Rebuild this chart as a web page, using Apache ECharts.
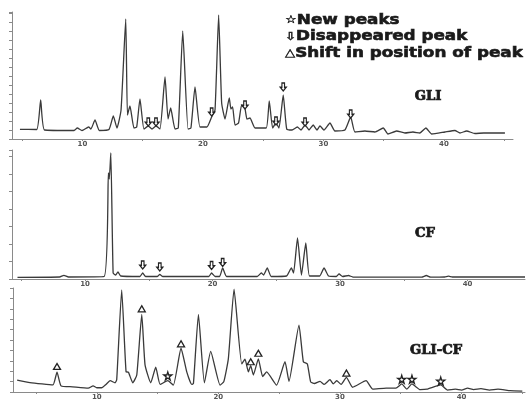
<!DOCTYPE html>
<html>
<head>
<meta charset="utf-8">
<script src="https://cdn.jsdelivr.net/npm/echarts@6/dist/echarts.min.js"></script>
<style>html,body{margin:0;padding:0;background:#fff;}#c{width:531px;height:401px;}</style>
</head>
<body>
<div id="c"></div>
<script>
// ---- data (2θ in degrees, intensity in arbitrary units) ----
const tickLabels = [10, 20, 30, 40];
const minorTicks = [5, 10, 15, 20, 25, 30, 35, 40, 45];
const panelNames = ['GLI', 'CF', 'GLI-CF'];
const legendLines = ['New peaks', 'Disappeared peak', 'Shift in position of peak'];

const gliPattern = [[4.81,9.7],[6.2,9.5],[6.53,39],[6.85,9],[9.3,8.5],[9.57,11],[9.96,8.5],[10.51,12],[10.7,10],[11.04,19],[11.4,8.5],[12.2,9.5],[12.56,23],[12.86,11],[13.2,29],[13.59,120],[13.73,24],[13.94,33],[14.27,11],[14.5,12],[14.77,40],[15.1,10],[15.46,13],[15.77,10],[16.1,13],[16.43,10],[16.85,62],[17.1,20],[17.32,31],[17.68,10],[17.95,11],[18.32,108],[18.76,10],[19.0,11],[19.34,52],[19.75,12],[20.33,12],[20.72,22],[21.0,29],[21.3,124],[21.55,36],[21.83,20],[22.18,41],[22.32,30],[22.46,32],[22.66,14],[22.95,16],[23.21,34],[23.49,30],[23.65,20],[23.9,21],[24.32,11],[25.25,11],[25.5,38],[25.78,11],[26.06,16],[26.31,11],[26.66,44],[26.95,10],[27.39,9],[27.83,12],[28.14,9],[28.47,14],[28.8,9],[29.15,14],[29.46,9],[29.71,13],[30.04,9],[30.54,16],[30.95,8],[31.78,9],[32.26,22],[32.61,7],[33.44,8],[34.27,7],[34.96,11],[35.35,5],[36.07,8],[36.76,6],[37.43,7],[38.0,6],[38.5,11],[38.99,5],[40.08,7],[40.91,8.5],[41.33,6],[41.88,8],[42.57,5.5],[43.3,6],[44.23,6],[45.06,6]];

const cfPattern = [[4.7,1.7],[8.0,2],[8.34,3.7],[8.7,2],[11.49,2.5],[11.83,106],[11.9,100],[12.02,126],[12.2,6],[12.4,4],[12.58,7],[12.8,3],[14.3,2.5],[14.52,6],[14.75,2.5],[15.65,2.5],[15.86,4.5],[16.1,2.5],[19.7,2.5],[19.92,6],[20.2,2.5],[20.55,2.5],[20.79,11],[21.1,2.5],[23.5,2.5],[23.82,6],[24.0,4],[24.29,11],[24.6,2.5],[25.8,3],[26.18,11],[26.35,6],[26.66,41],[26.97,4],[27.31,36],[27.6,3],[28.4,3],[28.74,11],[29.1,3],[29.7,2.5],[29.92,5],[30.2,2.5],[30.66,3.5],[31,2],[36.4,1.8],[36.76,3.5],[37.1,1.8],[38.2,2],[38.5,2.8],[38.8,2],[44.5,2]];

const gliCfPattern = [[3.45,12.6],[4.5,10],[5.5,8.5],[6.4,7.5],[6.73,21],[7.06,6.5],[8.0,5.5],[9.3,4],[9.7,6.5],[10.0,4.5],[10.4,4.5],[10.75,8],[11.1,12],[11.5,9.7],[11.64,13],[12.05,108],[12.41,21.3],[12.6,21],[12.96,9.7],[13.29,18],[13.7,82],[13.97,28.7],[14.44,9.7],[14.85,26.3],[15.21,8],[15.84,12],[16.3,7.3],[16.93,46.3],[17.4,21.3],[17.81,8],[17.95,9],[18.36,82],[18.85,9.7],[19.37,43],[20.14,7.3],[20.45,11],[20.82,35],[21.29,108.7],[21.92,29.7],[22.19,34.7],[22.47,21.3],[22.66,28],[22.88,18],[23.29,35],[23.64,16.3],[23.97,21.3],[24.79,7.3],[25.48,32],[25.81,11.3],[26.63,70.7],[26.99,32],[27.32,29.7],[27.59,10.7],[27.9,9],[28.36,11.3],[28.7,8],[29.18,13],[29.45,8.5],[29.73,12],[30.1,8],[30.53,15.5],[31.04,5],[32.15,12],[32.7,3],[33.8,4],[34.6,4],[35.08,8.5],[35.5,3],[35.92,8.5],[36.6,2.5],[37.16,3],[38.29,7.5],[38.85,2],[39.5,3],[40.0,2],[40.5,4],[41.0,2.5],[41.6,3.5],[42.3,2],[43.0,3],[44.0,1.5],[45.0,1]];

// annotation marks
const gliDisappeared = [[15.46,17],[16.1,17],[20.72,27],[23.49,34],[26.06,18],[26.66,52],[28.47,17],[32.26,25]];
const cfDisappeared = [[14.52,14],[15.86,12],[19.92,13.5],[20.79,16.5]];
const gliCfShift = [[6.73,27],[13.7,88],[16.93,51],[22.66,32],[23.29,41],[30.53,20]];
const gliCfNew = [[15.84,17],[35.08,13.5],[35.92,13.5],[38.29,11.5]];

// ---- chart ----
const LINE = '#3a3a3a';
const AXIS = '#8a8a8a';
const arrowPath = 'path://M30,0 H70 V52 H96 L50,100 L4,52 H30 Z';
const starPath = 'path://M50,0 L61,35 L98,35 L68,57 L79,91 L50,70 L21,91 L32,57 L2,35 L39,35 Z';

const grids = [
  {left: 12, top: 12, width: 501, height: 127},
  {left: 12, top: 150, width: 513, height: 129},
  {left: 13, top: 288, width: 512, height: 110}
];
const xRanges = [[4.15, 45.73], [4.27, 44.5], [3.11, 45.22]];
const yMax = [127, 129, 110];
const yStep = [9, 17.5, 11];

function xAxis(i) {
  return {
    type: 'value', gridIndex: i, min: xRanges[i][0], max: xRanges[i][1],
    axisLine: {show: true, onZero: false, lineStyle: {color: AXIS, width: 1}},
    axisTick: {show: true, length: 2, customValues: minorTicks, lineStyle: {color: AXIS}},
    axisLabel: {show: true, customValues: tickLabels, fontSize: 7, fontWeight: 'bold',
      color: '#555', margin: 2, fontFamily: 'DejaVu Sans'},
    splitLine: {show: false}
  };
}
function yAxis(i) {
  return {
    type: 'value', gridIndex: i, min: 0, max: yMax[i], interval: yStep[i],
    axisLine: {show: true, lineStyle: {color: AXIS, width: 1}},
    axisTick: {show: true, length: 3, lineStyle: {color: AXIS}},
    axisLabel: {show: false},
    splitLine: {show: false}
  };
}
function pattern(data, i) {
  return {type: 'line', xAxisIndex: i, yAxisIndex: i, data: data, showSymbol: false,
    symbol: 'none', smooth: 0.15, lineStyle: {color: LINE, width: 1.3}, silent: true, z: 2};
}
function marks(data, i, symbol, size) {
  return {type: 'scatter', xAxisIndex: i, yAxisIndex: i, data: data, symbol: symbol,
    symbolSize: size, itemStyle: {color: '#fff', borderColor: '#222', borderWidth: 1.3, opacity: 1},
    silent: true, z: 5};
}

const panelLabelPos = [[428, 97], [425, 234], [436, 351]];

const chart = echarts.init(document.getElementById('c'), null, {renderer: 'canvas'});
chart.setOption({
  animation: false,
  backgroundColor: '#fff',
  grid: grids,
  xAxis: [xAxis(0), xAxis(1), xAxis(2)],
  yAxis: [yAxis(0), yAxis(1), yAxis(2)],
  series: [
    pattern(gliPattern, 0),
    pattern(cfPattern, 1),
    pattern(gliCfPattern, 2),
    marks(gliDisappeared, 0, arrowPath, [6, 8]),
    marks(cfDisappeared, 1, arrowPath, [6, 8]),
    marks(gliCfShift, 2, 'triangle', [7, 6]),
    marks(gliCfNew, 2, starPath, [8, 8])
  ],
  graphic: [
    {
      type: 'text', x: 285, y: 12, scaleX: 1.2, scaleY: 1,
      style: {
        text: '{s|☆}' + legendLines[0] + '\n{s|⇩}' + legendLines[1] + '\n{s|△}' + legendLines[2],
        font: 'bold 14px "DejaVu Sans"', fill: '#1a1a1a', stroke: '#1a1a1a', lineWidth: 0.6,
        lineHeight: 16.5,
        rich: {s: {font: 'bold 11px "DejaVu Sans"', fill: '#1a1a1a', stroke: '#1a1a1a', lineWidth: 0.4, lineHeight: 16.5}}
      }
    }
  ].concat(panelNames.map(function (name, i) {
    return {
      type: 'text', x: panelLabelPos[i][0], y: panelLabelPos[i][1], scaleX: 1.1,
      style: {text: name, font: 'bold 12px "DejaVu Serif"', fill: '#1a1a1a',
        stroke: '#1a1a1a', lineWidth: 0.7, align: 'center', verticalAlign: 'middle'}
    };
  }))
});
</script>
</body>
</html>
